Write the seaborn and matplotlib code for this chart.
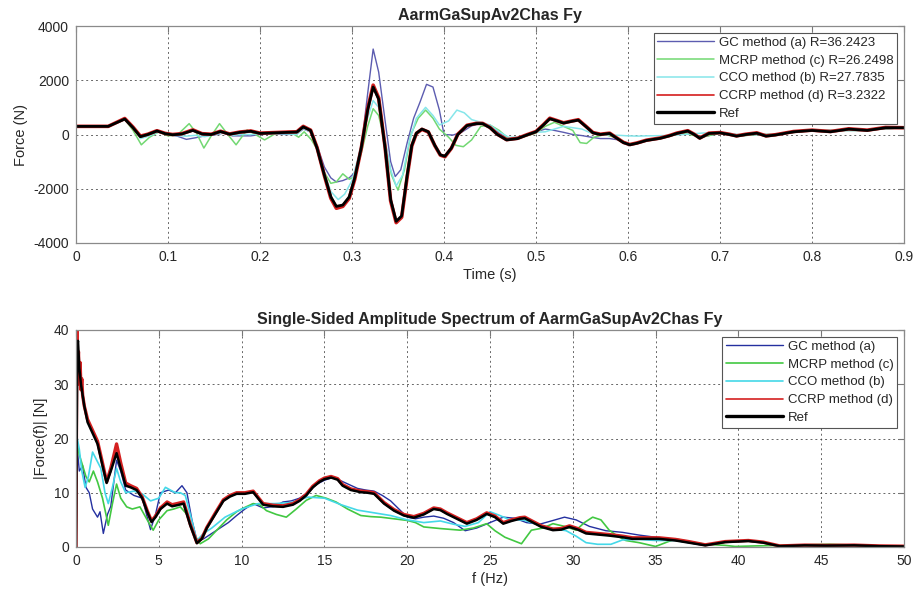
import matplotlib
matplotlib.use("Agg")
import matplotlib.pyplot as plt
import seaborn as sns
import pandas as pd

# ---------------- time-domain data ----------------
t_ref = [0, 0.035, 0.053, 0.062, 0.07, 0.078, 0.088, 0.097, 0.105, 0.115, 0.127, 0.137, 0.147, 0.157, 0.167,
         0.178, 0.19, 0.2, 0.215, 0.23, 0.24, 0.247, 0.255, 0.262, 0.27, 0.277, 0.283, 0.29, 0.297, 0.303, 0.31,
         0.317, 0.323, 0.329, 0.336, 0.342, 0.348, 0.354, 0.36, 0.365, 0.37, 0.376, 0.383, 0.39, 0.396, 0.401,
         0.408, 0.415, 0.425, 0.435, 0.442, 0.45, 0.458, 0.468, 0.48, 0.49, 0.5, 0.508, 0.515, 0.523, 0.53,
         0.538, 0.546, 0.554, 0.562, 0.57, 0.58, 0.587, 0.595, 0.602, 0.61, 0.62, 0.635, 0.645, 0.653, 0.665,
         0.672, 0.678, 0.688, 0.7, 0.71, 0.718, 0.728, 0.74, 0.75, 0.76, 0.78, 0.8, 0.82, 0.84, 0.86, 0.88, 0.9]
v_ref = [300, 300, 570, 250, -80, 0, 130, 30, -10, 20, 150, 20, 0, 110, 10,
         80, 120, 40, 60, 80, 90, 280, 150, -500, -1500, -2300, -2650, -2600, -2300, -1600, -500,
         900, 1750, 1300, -500, -2400, -3200, -3000, -1500, -400, 50, 200, 100, -400, -750, -800,
         -500, 0, 330, 400, 400, 250, 0, -200, -150, -20, 100, 350, 580, 500, 420,
         480, 530, 300, 60, 0, 40, -120, -300, -380, -320, -220, -140, -50, 40, 130,
         0, -140, 40, 60, 0, -60, 0, 50, -60, -20, 100, 150, 100, 200, 150, 250, 250]
v_ccrp = [300, 300, 590, 270, -60, 10, 140, 40, 0, 30, 170, 30, 10, 120, 20,
          90, 130, 50, 70, 90, 100, 300, 160, -480, -1520, -2350, -2720, -2650, -2350, -1650, -520,
          950, 1820, 1350, -480, -2450, -3250, -3050, -1550, -420, 40, 190, 90, -410, -760, -820,
          -510, 10, 340, 410, 410, 260, 10, -190, -140, -10, 110, 360, 600, 510, 430,
          490, 545, 310, 70, 10, 50, -110, -290, -370, -310, -210, -130, -40, 50, 140,
          10, -130, 50, 70, 10, -50, 10, 60, -50, -10, 110, 160, 110, 210, 160, 260, 250]

t_gc = [0, 0.035, 0.053, 0.062, 0.07, 0.08, 0.09, 0.1, 0.11, 0.12, 0.13, 0.14, 0.15, 0.16, 0.17, 0.18, 0.19,
        0.2, 0.215, 0.23, 0.24, 0.247, 0.255, 0.262, 0.27, 0.277, 0.283, 0.29, 0.297, 0.303, 0.31, 0.317,
        0.323, 0.329, 0.336, 0.342, 0.347, 0.353, 0.36, 0.367, 0.374, 0.381, 0.388, 0.395, 0.4, 0.41, 0.42,
        0.43, 0.44, 0.45, 0.46, 0.47, 0.48, 0.49, 0.5, 0.51, 0.52, 0.53, 0.54, 0.55, 0.56, 0.57, 0.58, 0.59,
        0.6, 0.61, 0.62, 0.64, 0.66, 0.68, 0.7, 0.72, 0.74, 0.76, 0.8, 0.85, 0.9]
v_gc = [300, 300, 560, 250, -80, -20, 100, 0, -60, -180, -120, -50, -20, 50, -50, -50, -50,
        0, 20, 0, 20, 200, 100, -400, -1200, -1600, -1750, -1700, -1600, -1400, -500, 1500,
        3150, 2300, 500, -1000, -1550, -1300, -300, 600, 1200, 1850, 1750, 900, 0, -20, 100,
        320, 400, 300, 50, -150, -150, -20, 100, 200, 150, 80, 0, -40, -100, -150, -150, -200,
        -380, -330, -220, -100, 100, -100, 50, -60, 0, 0, 150, 150, 250]

t_mcrp = [0, 0.035, 0.053, 0.062, 0.071, 0.08, 0.09, 0.1, 0.11, 0.123, 0.131, 0.139, 0.147, 0.156, 0.165,
          0.174, 0.18, 0.186, 0.195, 0.205, 0.215, 0.225, 0.235, 0.242, 0.248, 0.256, 0.263, 0.27, 0.277,
          0.283, 0.29, 0.297, 0.303, 0.31, 0.317, 0.323, 0.329, 0.336, 0.343, 0.35, 0.357, 0.364, 0.372,
          0.38, 0.388, 0.395, 0.405, 0.413, 0.421, 0.43, 0.44, 0.45, 0.46, 0.47, 0.48, 0.49, 0.5, 0.51,
          0.52, 0.53, 0.54, 0.548, 0.555, 0.563, 0.575, 0.59, 0.6, 0.61, 0.62, 0.64, 0.66, 0.68, 0.7,
          0.72, 0.74, 0.76, 0.8, 0.85, 0.9]
v_mcrp = [300, 300, 560, 150, -380, -100, 100, -50, -20, 400, 50, -500, -50, 400, 0,
          -380, -100, 170, 0, -200, 0, 100, 50, -100, 100, -200, -600, -1400, -1800,
          -1750, -1450, -1650, -1550, -700, 300, 950, 700, -300, -1500, -2050, -1300, 0, 600,
          900, 600, 200, -100, -400, -450, -200, 300, 350, 150, -150, -150, -50, 50, 300,
          450, 300, 150, -300, -330, -100, 0, -150, -350, -300, -200, -100, 50, -100, 50,
          -60, 0, 0, 150, 150, 250]

t_cco = [0, 0.035, 0.053, 0.062, 0.07, 0.08, 0.09, 0.1, 0.11, 0.12, 0.13, 0.14, 0.15, 0.16, 0.17, 0.18,
         0.19, 0.2, 0.215, 0.23, 0.24, 0.247, 0.255, 0.262, 0.27, 0.277, 0.285, 0.292, 0.3, 0.307, 0.315,
         0.323, 0.329, 0.336, 0.342, 0.348, 0.355, 0.362, 0.37, 0.38, 0.388, 0.395, 0.405, 0.414, 0.422,
         0.43, 0.44, 0.45, 0.46, 0.47, 0.48, 0.49, 0.5, 0.51, 0.52, 0.53, 0.54, 0.55, 0.56, 0.57, 0.58,
         0.59, 0.6, 0.61, 0.62, 0.64, 0.66, 0.68, 0.7, 0.72, 0.74, 0.76, 0.8, 0.85, 0.9]
v_cco = [300, 300, 560, 250, -150, -50, 100, 0, -40, -60, -30, -80, 0, 60, -30, 0,
         0, 30, 30, 20, 0, 220, 100, -500, -1400, -2100, -2400, -2200, -1700, -800, 400,
         1250, 1000, -200, -1300, -1900, -1500, -300, 600, 1000, 700, 350, 500, 900, 800,
         550, 450, 350, 100, -100, -100, 0, 80, 100, 200, 300, 250, 200, 50, 0, -20,
         -30, -50, -60, -50, -40, 0, 50, 80, 0, 0, 0, 150, 150, 250]

# ---------------- spectrum data ----------------
f_ref = [0, 0.08, 0.12, 0.2, 0.3, 0.4, 0.5, 0.7, 1.0, 1.3, 1.6, 1.85, 2.1, 2.45, 2.7, 3.0, 3.3, 3.66, 4.0,
         4.3, 4.56, 4.8, 5.1, 5.5, 5.8, 6.1, 6.5, 6.9, 7.3, 7.6, 7.9, 8.4, 8.9, 9.3, 9.7, 10.2, 10.7, 11.3,
         11.9, 12.5, 13.1, 13.5, 13.9, 14.3, 14.7, 15.0, 15.4, 15.8, 16.1, 16.6, 17.2, 17.6, 18.0, 18.6,
         19.2, 19.8, 20.4, 21.0, 21.6, 22.0, 22.4, 23.0, 23.6, 24.2, 24.8, 25.3, 25.8, 26.3, 26.8, 27.1,
         27.6, 28.1, 28.8, 29.3, 29.8, 30.3, 30.8, 31.5, 32.2, 33.0, 33.6, 34.4, 35.2, 36.2, 37.0, 38.0,
         39.2, 40.6, 41.5, 42.5, 44.0, 45.3, 47.0, 48.5, 50]
a_ref = [0, 37, 38, 33, 30, 28, 26, 23, 21, 19, 15, 11.8, 14, 17.3, 14.5, 11.3, 11, 10.5, 9,
         6.5, 4.6, 5.5, 7, 8, 7.5, 7.7, 8, 4, 0.7, 1.5, 3.5, 6, 8.5, 9.3, 9.8, 9.8, 10.1, 7.8,
         7.5, 7.4, 7.8, 8.5, 9.5, 11, 12, 12.5, 12.8, 12.4, 11.3, 10.5, 10.1, 10, 9.8, 8,
         6.7, 5.8, 5.4, 6, 7, 6.8, 6.1, 5.2, 4.3, 5, 6.1, 5.5, 4.3, 4.8, 5.2, 5.3,
         4.5, 3.7, 3.1, 3.2, 3.7, 3.2, 2.5, 2.3, 2.1, 1.8, 1.5, 1.5, 1.5, 1.2, 0.8, 0.3,
         0.9, 1.1, 0.8, 0.15, 0.3, 0.25, 0.3, 0.15, 0.1]

f_ccrp = [0, 0.05, 0.1, 0.15, 0.2, 0.25, 0.3, 0.35, 0.4, 0.5, 0.7, 1.0, 1.3, 1.6, 1.85, 2.1, 2.45, 2.7, 3.0,
          3.3, 3.66, 4.0, 4.3, 4.56, 4.8, 5.1, 5.5, 5.8, 6.1, 6.5, 6.9, 7.3, 7.6, 7.9, 8.4, 8.9, 9.3, 9.7,
          10.2, 10.7, 11.3, 11.9, 12.5, 13.1, 13.5, 13.9, 14.3, 14.7, 15.0, 15.4, 15.8, 16.1, 16.6, 17.2,
          17.6, 18.0, 18.6, 19.2, 19.8, 20.4, 21.0, 21.6, 22.0, 22.4, 23.0, 23.6, 24.2, 24.8, 25.3, 25.8,
          26.3, 26.8, 27.1, 27.6, 28.1, 28.8, 29.3, 29.8, 30.3, 30.8, 31.5, 32.2, 33.0, 33.6, 34.4, 35.2,
          36.2, 37.0, 38.0, 39.2, 40.6, 41.5, 42.5, 44.0, 45.3, 47.0, 48.5, 50]
a_ccrp = [0, 40, 33, 36, 30, 34, 29, 31, 28, 26, 23.5, 21.5, 19.5, 15.5, 12, 14.5, 19, 15.5, 11.8,
          11.3, 10.8, 9.2, 6.7, 4.8, 5.7, 7.2, 8.3, 7.8, 8, 8.3, 4.2, 0.8, 1.6, 3.6, 6.2, 8.7, 9.5, 10,
          10, 10.3, 8, 7.7, 7.6, 8, 8.7, 9.7, 11.2, 12.2, 12.7, 13, 12.6, 11.5, 10.7, 10.3,
          10.2, 10, 8.2, 6.9, 6, 5.6, 6.2, 7.2, 7, 6.3, 5.4, 4.5, 5.2, 6.3, 5.7, 4.5,
          5, 5.4, 5.5, 4.7, 3.9, 3.3, 3.4, 3.9, 3.4, 2.7, 2.5, 2.3, 2, 1.7, 1.7, 1.7,
          1.4, 1, 0.4, 1, 1.2, 0.9, 0.2, 0.35, 0.3, 0.35, 0.2, 0.15]

f_gc = [0, 0.08, 0.2, 0.4, 0.6, 0.8, 1.0, 1.3, 1.45, 1.65, 1.9, 2.1, 2.45, 2.7, 3.0, 3.5, 4.0, 4.5, 4.8,
        5.1, 5.6, 6.0, 6.4, 6.7, 7.0, 7.3, 7.7, 8.2, 8.7, 9.2, 9.7, 10.2, 10.7, 11.3, 12.0, 12.5, 13.0,
        13.5, 14.0, 14.5, 15.0, 15.5, 16.0, 16.5, 17.0, 17.5, 18.0, 18.5, 19.0, 19.5, 20.0, 20.5, 21.0,
        21.6, 22.2, 22.8, 23.5, 24.2, 25.0, 25.8, 26.5, 27.2, 28.0, 28.7, 29.5, 30.2, 31.0, 32.0, 33.0,
        34.0, 35.0, 36.2, 37.0, 38.0, 39.2, 40.6, 41.5, 42.5, 44.0, 45.3, 47.0, 48.5, 50]
a_gc = [0, 18, 14, 15, 11, 10, 7, 5.5, 6.5, 2.5, 6, 7.5, 16, 14, 10.5, 9.5, 9, 3.2, 6,
        10, 10.5, 10, 11.3, 10, 5, 1.2, 1.5, 2.5, 3.5, 4.5, 5.8, 7, 8, 7.2, 7.5, 8.3, 8.5,
        9, 10, 11.5, 12.3, 12.8, 12.2, 11.5, 10.8, 10.5, 10.3, 9.5, 8.5, 7, 5.5, 5.2, 5.5,
        5.7, 5.3, 4.5, 3, 3.5, 4.5, 5.5, 5.3, 4.5, 4.2, 4.8, 5.5, 5, 3.8, 3, 2.7,
        2.2, 1.8, 1.2, 0.8, 0.3, 0.9, 1.1, 0.8, 0.15, 0.3, 0.25, 0.3, 0.15, 0.1]

f_mcrp = [0, 0.08, 0.2, 0.4, 0.6, 0.8, 1.05, 1.3, 1.6, 1.95, 2.2, 2.45, 2.7, 3.06, 3.4, 3.86, 4.3, 4.66,
          5.0, 5.5, 5.9, 6.3, 6.7, 7.1, 7.5, 8.0, 8.5, 9.1, 9.7, 10.2, 10.7, 11.1, 11.5, 12.1, 12.7, 13.3,
          13.9, 14.5, 15.1, 15.7, 16.4, 17.2, 17.8, 18.4, 19.2, 20.0, 20.5, 21.0, 22.0, 23.2, 24.0, 24.8,
          25.3, 25.9, 26.4, 26.9, 27.5, 28.2, 28.8, 29.5, 30.2, 30.7, 31.2, 31.7, 32.2, 32.7, 33.2, 34.0,
          35.0, 35.6, 36.2, 37.0, 38.0, 39.2, 39.8, 41.0, 42.5, 44.0, 45.5, 46.5, 48.0, 50]
a_mcrp = [0, 19, 17, 15, 13, 12, 14, 12, 9, 4, 8, 11.6, 9, 7.4, 7, 7.4, 5, 3.1,
          5, 6.7, 7, 7.4, 6, 2.5, 0.6, 1.5, 3.1, 5, 6.5, 7.3, 8, 7.8, 6.7, 6, 5.5, 7,
          8.6, 9.5, 9, 8.3, 7, 5.8, 5.6, 5.5, 5.2, 4.9, 4.5, 3.7, 3.4, 3.1, 3.5, 4.3,
          3, 1.8, 1.2, 0.6, 3.1, 3.5, 4.3, 3.8, 3.1, 4.5, 5.5, 5, 3.1, 2, 1.2, 0.8,
          0.1, 0.8, 1.5, 1.0, 0.5, 0.3, 0.1, 0.2, 0.3, 0.4, 0.5, 0.4, 0.2, 0.1]

f_cco = [0, 0.08, 0.2, 0.35, 0.55, 0.75, 1.0, 1.25, 1.5, 1.75, 1.95, 2.2, 2.45, 2.7, 3.0, 3.5, 4.0, 4.5,
         5.0, 5.4, 5.7, 6.0, 6.3, 6.6, 6.9, 7.3, 7.7, 8.2, 9.0, 10.0, 11.0, 12.0, 13.0, 14.0, 15.0, 16.0,
         17.0, 18.0, 19.0, 20.0, 21.0, 22.0, 22.8, 23.5, 24.3, 25.0, 25.6, 26.2, 27.0, 28.0, 29.0, 29.6,
         30.2, 30.8, 31.5, 32.3, 33.0, 34.0, 35.0, 36.2, 37.0, 38.0, 39.2, 40.6, 41.5, 42.5, 44.0, 45.3,
         47.0, 48.5, 50]
a_cco = [0, 20, 18, 14, 11, 13, 17.5, 16, 14.5, 10, 8, 11, 14.5, 12, 10, 10.3, 9.8, 8.5,
         9, 11, 10.5, 10, 10, 9.5, 6, 1.2, 2.5, 3.5, 5.5, 7, 8, 8, 8.2, 9.2, 9, 7.8,
         6.8, 6.3, 5.8, 5, 4.5, 4.8, 4.2, 3.8, 4.5, 6.5, 5.8, 5, 5, 4, 3.3, 3,
         2, 0.8, 0.5, 0.5, 1.3, 1.4, 1.2, 1.2, 0.8, 0.3, 0.9, 1.1, 0.8, 0.15, 0.3, 0.25,
         0.3, 0.15, 0.1]

top_labels = ["GC method (a) R=36.2423", "MCRP method (c) R=26.2498", "CCO method (b) R=27.7835",
              "CCRP method (d) R=3.2322", "Ref"]
bot_labels = ["GC method (a)", "MCRP method (c)", "CCO method (b)", "CCRP method (d)", "Ref"]
top_ticks_x = [0, 0.1, 0.2, 0.3, 0.4, 0.5, 0.6, 0.7, 0.8, 0.9]
top_ticks_y = [-4000, -2000, 0, 2000, 4000]
bot_ticks_x = [0, 5, 10, 15, 20, 25, 30, 35, 40, 45, 50]
bot_ticks_y = [0, 10, 20, 30, 40]

sns.set_style("white")
plt.rcParams['font.family'] = ['Liberation Sans', 'DejaVu Sans']

fig = plt.figure(figsize=(9.21, 5.96), dpi=100)
ax1 = fig.add_axes([76/921, 1-243/596, 828/921, 217/596])
ax2 = fig.add_axes([76/921, 1-547/596, 828/921, 217/596])

top_series = [(t_gc, v_gc, '#5c5cb0', 1.0), (t_mcrp, v_mcrp, '#72d872', 1.1), (t_cco, v_cco, '#86e6ea', 1.1),
              (t_ref, v_ccrp, '#d41e1e', 2.6), (t_ref, v_ref, '#000000', 2.0)]
bot_series = [(f_gc, a_gc, '#2430a0', 1.0), (f_mcrp, a_mcrp, '#42c842', 1.2), (f_cco, a_cco, '#44d8e8', 1.2),
              (f_ccrp, a_ccrp, '#d42020', 2.4), (f_ref, a_ref, '#000000', 1.8)]

for (x, y, c, lw), lab in zip(top_series, top_labels):
    df = pd.DataFrame({'x': x, 'y': y})
    sns.lineplot(data=df, x='x', y='y', ax=ax1, color=c, lw=lw, label=lab, estimator=None, sort=False)
for (x, y, c, lw), lab in zip(bot_series, bot_labels):
    df = pd.DataFrame({'x': x, 'y': y})
    sns.lineplot(data=df, x='x', y='y', ax=ax2, color=c, lw=lw, label=lab, estimator=None, sort=False)

def style(ax, xt, yt, xlim, ylim, xlabel, ylabel, title, xfmt):
    ax.set_xlim(*xlim)
    ax.set_ylim(*ylim)
    ax.set_xticks(xt)
    ax.set_yticks(yt)
    ax.set_xticklabels([xfmt(v) for v in xt])
    ax.set_yticklabels([str(v) for v in yt])
    ax.grid(True, linestyle=(0, (2, 3)), color='#404040', lw=0.7, alpha=0.8)
    ax.tick_params(direction='in', length=4, width=0.8, colors='#777777', labelcolor='#262626',
                   labelsize=10, top=True, right=True, pad=5)
    for s in ax.spines.values():
        s.set_color('#8a8a8a')
        s.set_linewidth(0.9)
    ax.set_xlabel(xlabel, fontsize=10.5, color='#262626', labelpad=3)
    ax.set_ylabel(ylabel, fontsize=10.5, color='#262626', labelpad=4)
    ax.set_title(title, fontsize=11.5, fontweight='bold', pad=4)

style(ax1, top_ticks_x, top_ticks_y, (0, 0.9), (-4000, 4000), 'Time (s)', 'Force (N)',
      'AarmGaSupAv2Chas Fy', lambda v: '0' if v == 0 else f'{v:g}')
style(ax2, bot_ticks_x, bot_ticks_y, (0, 50), (0, 40), 'f (Hz)', '|Force(f)| [N]',
      'Single-Sided Amplitude Spectrum of AarmGaSupAv2Chas Fy', lambda v: str(v))

for ax in (ax1, ax2):
    leg = ax.legend(loc='upper right', fontsize=9.5, handlelength=4.3, handletextpad=0.35,
                    labelspacing=0.42, borderpad=0.3, borderaxespad=0.5, frameon=True, fancybox=False,
                    edgecolor='#555555', framealpha=1)
    leg.get_frame().set_linewidth(0.8)
    for h in leg.get_lines():
        if h.get_color() == '#000000':
            h.set_linewidth(2.4)
        elif h.get_color() in ('#d41e1e', '#d42020'):
            h.set_linewidth(1.2)

fig.savefig('out.png', dpi=100)
